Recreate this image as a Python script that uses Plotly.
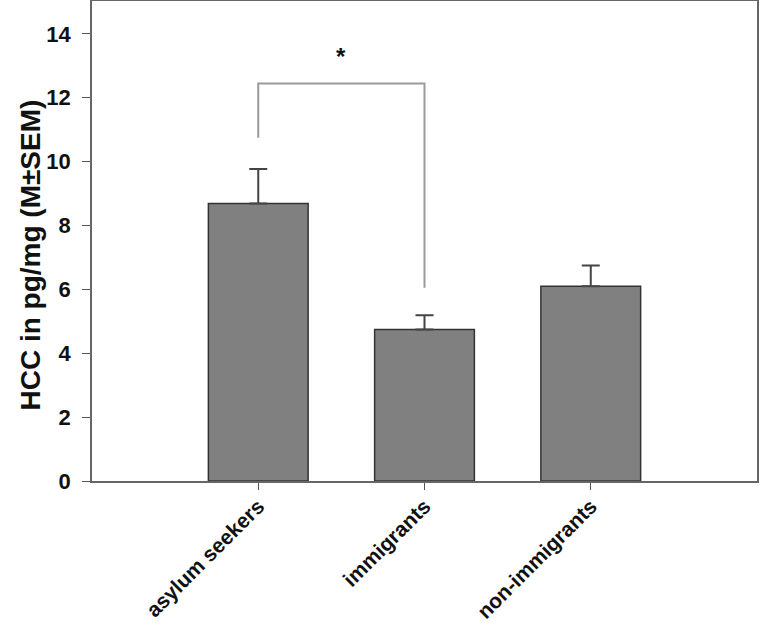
import plotly.graph_objects as go

groups = ["asylum seekers", "immigrants", "non-immigrants"]
hcc_mean = [8.69, 4.74, 6.10]
hcc_sem = [1.08, 0.45, 0.65]
y_ticks = [0, 2, 4, 6, 8, 10, 12, 14]

# significance bracket between asylum seekers and immigrants
bracket_x = [0, 0, 1, 1]
bracket_y = [10.75, 12.45, 12.45, 6.05]
star_x = 0.5
star_y = 13.3

font_name = "Liberation Sans, Arial"

fig = go.Figure()
fig.add_trace(go.Bar(
    x=list(range(len(groups))), y=hcc_mean, width=0.6,
    marker=dict(color="#808080", line=dict(color="#333333", width=1.5)),
    error_y=dict(type="data", array=hcc_sem, symmetric=False, arrayminus=[0, 0, 0],
                 color="#444444", thickness=2, width=9),
    showlegend=False,
))
fig.add_trace(go.Scatter(
    x=bracket_x, y=bracket_y, mode="lines",
    line=dict(color="#9a9a9a", width=2), showlegend=False, hoverinfo="skip",
))
fig.add_annotation(x=star_x, y=star_y, text="<b>*</b>", showarrow=False,
                   font=dict(family=font_name, size=24, color="#111"))
# y axis title
fig.add_annotation(x=-0.093, y=0.47, xref="paper", yref="paper", textangle=-90,
                   text="<b>HCC in pg/mg (M±SEM)</b>", showarrow=False,
                   xanchor="center", yanchor="middle",
                   font=dict(family=font_name, size=28, color="#111"))

fig.update_layout(
    width=760, height=629,
    margin=dict(l=92, r=3, t=1, b=148),
    plot_bgcolor="white", paper_bgcolor="white",
)
fig.update_xaxes(
    range=[-1, 3], tickvals=list(range(len(groups))), ticktext=["<b>%s</b>" % g for g in groups],
    tickangle=-45, ticks="outside", ticklen=7, tickcolor="#555", automargin=False,
    ticklabelstandoff=-4,
    showline=True, linecolor="#666", linewidth=1.5, mirror=True,
    showgrid=False, zeroline=False,
    tickfont=dict(family=font_name, size=21, color="#111"),
)
fig.update_yaxes(
    range=[0, 15.03], tickvals=y_ticks, ticktext=["<b>%d</b>" % v for v in y_ticks],
    ticks="outside", ticklen=8, tickcolor="#555", automargin=False, ticklabelstandoff=7,
    showline=True, linecolor="#666", linewidth=1.5, mirror=True,
    showgrid=False, zeroline=False,
    tickfont=dict(family=font_name, size=22, color="#111"),
)

fig.write_html("out.html", config={"displayModeBar": False},
               post_script="document.body.style.margin='0';")
